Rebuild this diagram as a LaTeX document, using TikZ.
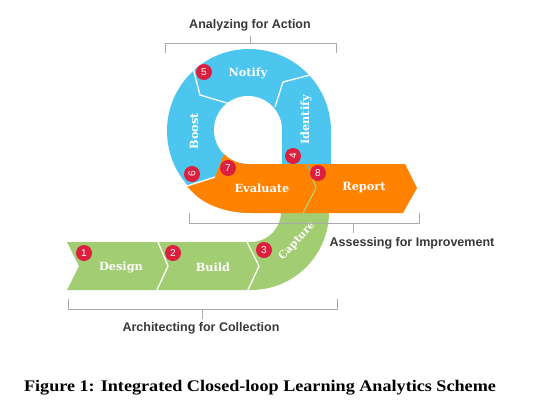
\documentclass[tikz,border=0pt]{standalone}
\usepackage{fontspec}
\setmainfont{Liberation Serif}
\newfontfamily\capfont[FakeStretch=1.12]{Liberation Serif}
\newfontfamily\lblfont{DejaVu Serif}
\newfontfamily\secfont{Liberation Sans}
\definecolor{cblue}{HTML}{4CC6EF}
\definecolor{corange}{HTML}{FF8300}
\definecolor{cgreen}{HTML}{A2CD73}
\definecolor{cred}{HTML}{DC1F3E}
\definecolor{cgray}{HTML}{AAAAAA}
\definecolor{ctext}{HTML}{383838}
\tikzset{
  seglabel/.style={text=white,font=\lblfont\bfseries\fontsize{11.3}{13}\selectfont,inner sep=0pt},
  badge/.style={circle,fill=cred,text=white,minimum size=16pt,inner sep=0pt,font=\secfont\fontsize{10}{11}\selectfont},
  sectitle/.style={text=ctext,font=\secfont\bfseries\fontsize{12.5}{14}\selectfont,inner sep=0pt},
  bracket/.style={draw=cgray,line width=0.8pt},
  sepline/.style={draw=white,line width=1.3pt,line join=miter}
}
\begin{document}
\begin{tikzpicture}[x=1pt,y=-1pt]
\useasboundingbox[fill=white] (0,0) rectangle (538,410);
% green capture strip
\fill[cgreen] (67,290) -- (251,290) arc[start angle=90,end angle=0,radius=78]
  -- (329,200) -- (281,200) -- (281,212) arc[start angle=0,end angle=90,radius=30]
  -- (67,242) -- (79,266) -- cycle;
% blue ring
\fill[cblue] (249,131) circle[radius=82];
\fill[cblue] (249,131) rectangle (331,170);
\fill[white] (248,130) circle[radius=34];
\fill[white] (248,130) rectangle (282,170);
% blue separators
\draw[sepline] (193,68) -- (200,95) -- (227,103);
\draw[sepline] (310,75) -- (283,82) -- (275,107);
% orange evaluate and report
\fill[corange] (248,130) ++(135:34) arc[start angle=135,end angle=90,radius=34]
  -- (307,164) -- (316,188) -- (303,213) -- (252,213)
  .. controls (222,213) and (200,203) .. (187,186) -- (215,177) -- cycle;
\fill[corange] (307,164) -- (405,164) -- (417,188) -- (403,213) -- (303,213) -- (316,188) -- cycle;
\draw[sepline] (187,186) -- (215,177);
\draw[cgreen!80!white,line width=1pt] (310,171) -- (316,188) -- (303,213);
\draw[cblue,line width=1pt] (307,164) -- (310,171);
% green separators
\draw[sepline] (158,242) -- (168,266) -- (157,290);
\draw[sepline] (247,242) -- (259,266) -- (248,290);
% segment labels
\node[seglabel] (design) at (121,267) {Design};
\node[seglabel] (build) at (213,267) {Build};
\node[seglabel,rotate=47,font=\lblfont\bfseries\fontsize{10.6}{12}\selectfont] (capture) at (297,241) {Capture};
\node[seglabel,rotate=90] (identify) at (306,120) {Identify};
\node[seglabel] (notify) at (248,73) {Notify};
\node[seglabel,rotate=90] (boost) at (194,131) {Boost};
\node[seglabel] (evaluate) at (262,188) {Evaluate};
\node[seglabel] (report) at (364,188) {Report};
% badges
\node[badge] (b1) at (84,253) {1};
\node[badge] (b2) at (173,253) {2};
\node[badge] (b3) at (264,250) {3};
\node[badge,rotate=90] (b4) at (293,156) {4};
\node[badge] (b5) at (204,72) {5};
\node[badge,rotate=90] (b6) at (192,174) {6};
\node[badge] (b7) at (228,168) {7};
\node[badge] (b8) at (318,173) {8};
% brackets
\draw[bracket] (165,53) -- (165,43) -- (336,43) -- (336,53);
\draw[bracket] (250,43) -- (250,36);
\node[sectitle] (t1) at (250,25) {Analyzing for Action};
\draw[bracket] (189,213) -- (189,223) -- (419,223) -- (419,213);
\draw[bracket] (353,223) -- (353,233);
\node[sectitle] (t2) at (412,243) {Assessing for Improvement};
\draw[bracket] (68,299) -- (68,309) -- (337,309) -- (337,299);
\draw[bracket] (202,309) -- (202,319);
\node[sectitle] (t3) at (201,328) {Architecting for Collection};
% caption
\node[font=\capfont\bfseries\fontsize{16.2}{19}\selectfont,inner sep=0pt] (cap) at (260,388) {Figure 1: Integrated Closed-loop Learning Analytics Scheme};
\end{tikzpicture}
\end{document}
